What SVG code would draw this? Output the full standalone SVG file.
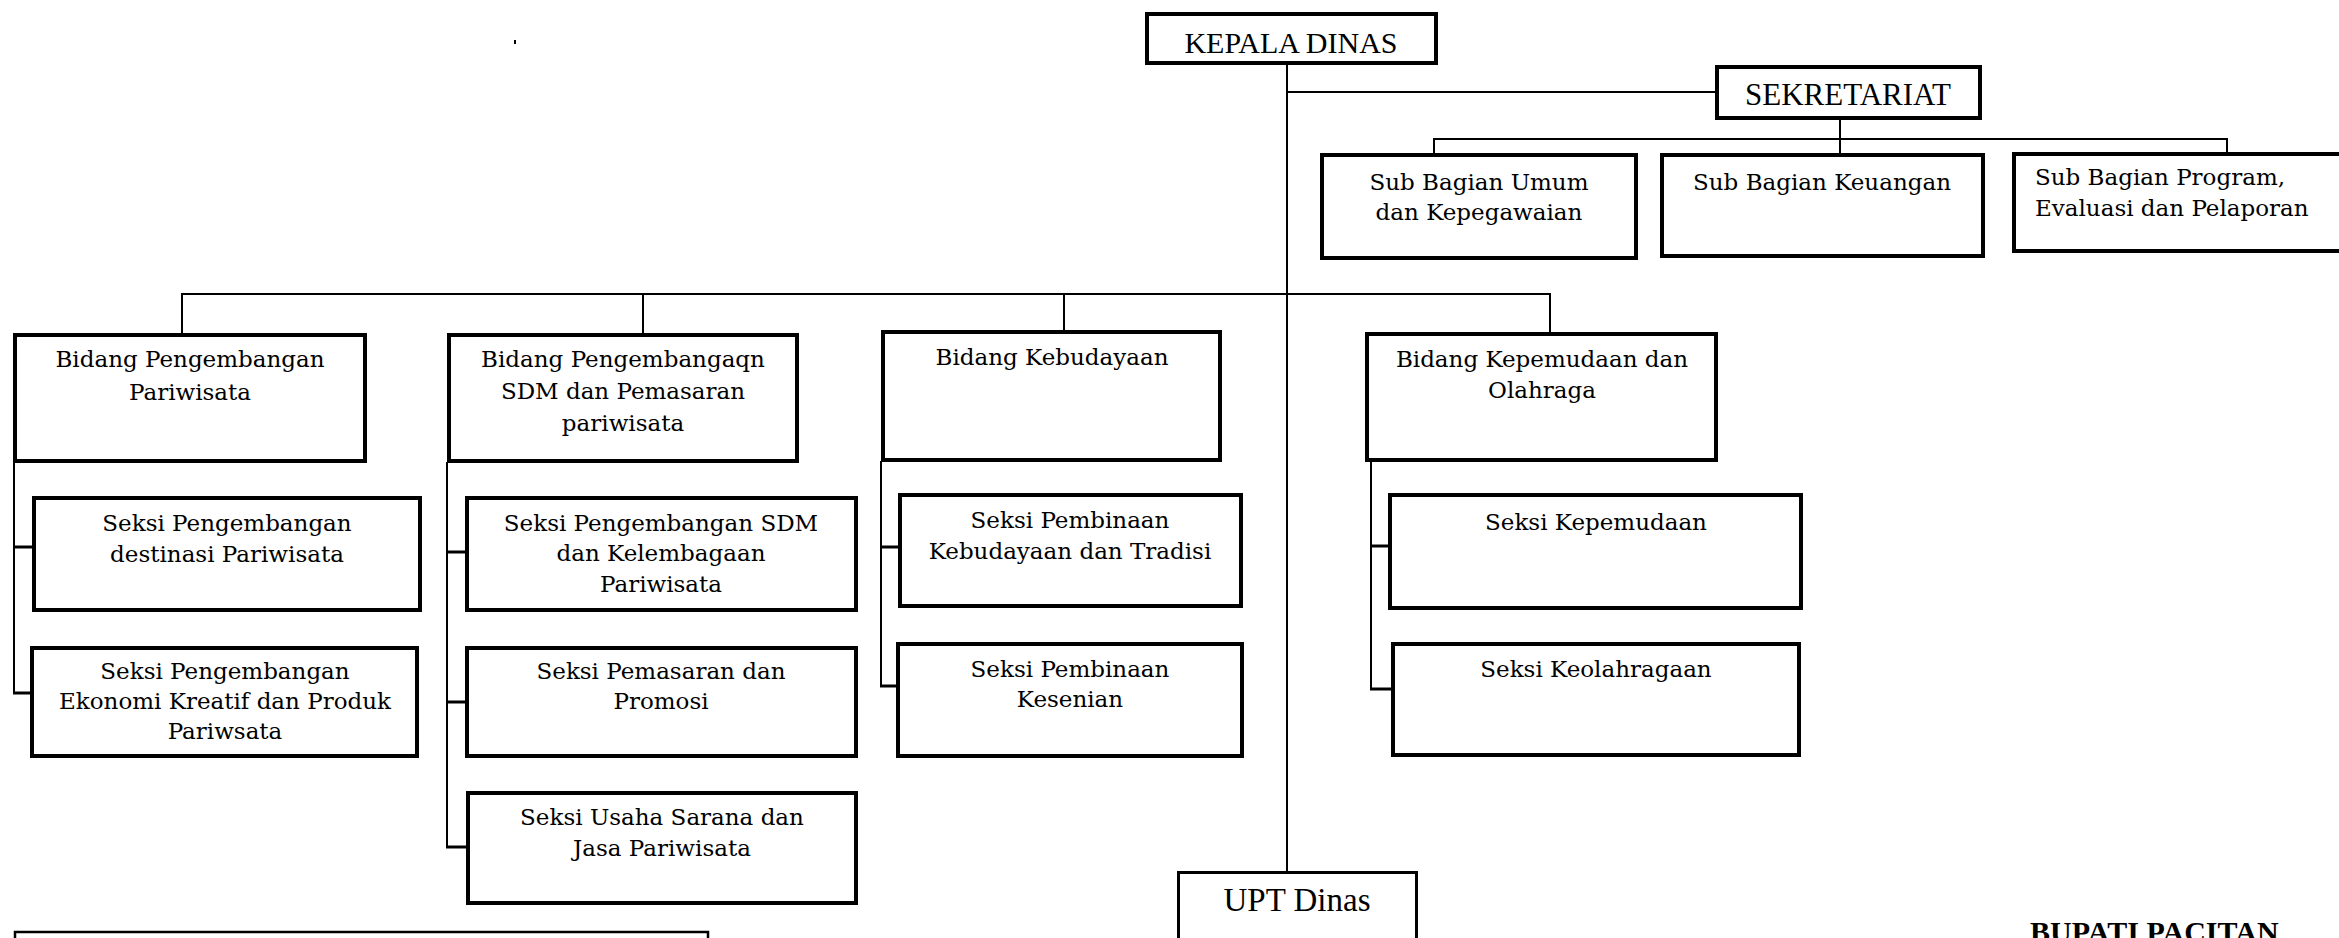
<svg xmlns="http://www.w3.org/2000/svg" width="2339" height="938" viewBox="0 0 2339 938">
<style>
.box{fill:#fff;stroke:#000;stroke-width:4}
.thin{fill:#fff;stroke:#000;stroke-width:2.5}
.conn line{stroke:#000;stroke-width:2}
.conn .stub{stroke-width:3}
text{font-family:"DejaVu Serif","Liberation Serif",serif;font-size:23px;fill:#000;text-anchor:middle}
.cap{font-family:"Liberation Serif","DejaVu Serif",serif;font-size:30px}
</style>
<rect width="2339" height="938" fill="#fff"/>
<g class="conn" id="connectors">
<line x1="1287" y1="65" x2="1287" y2="872"/>
<line x1="1287" y1="92" x2="1716" y2="92"/>
<line x1="1840" y1="120" x2="1840" y2="154"/>
<line x1="1433" y1="139" x2="2228" y2="139"/>
<line x1="1434" y1="139" x2="1434" y2="154"/>
<line x1="2227" y1="139" x2="2227" y2="153"/>
<line x1="181" y1="294" x2="1551" y2="294"/>
<line x1="182" y1="294" x2="182" y2="334"/>
<line x1="643" y1="294" x2="643" y2="334"/>
<line x1="1064" y1="294" x2="1064" y2="331"/>
<line x1="1550" y1="294" x2="1550" y2="333"/>
<line x1="14" y1="462" x2="14" y2="694"/>
<line class="stub" x1="13" y1="547" x2="33" y2="547"/>
<line class="stub" x1="13" y1="693" x2="31" y2="693"/>
<line x1="447" y1="462" x2="447" y2="848"/>
<line class="stub" x1="446" y1="552" x2="466" y2="552"/>
<line class="stub" x1="446" y1="702" x2="466" y2="702"/>
<line class="stub" x1="446" y1="847" x2="467" y2="847"/>
<line x1="881" y1="461" x2="881" y2="687"/>
<line class="stub" x1="880" y1="547" x2="899" y2="547"/>
<line class="stub" x1="880" y1="686" x2="897" y2="686"/>
<line x1="1371" y1="461" x2="1371" y2="690"/>
<line class="stub" x1="1370" y1="546" x2="1389" y2="546"/>
<line class="stub" x1="1370" y1="689" x2="1392" y2="689"/>
</g>
<g id="kepala-dinas">
<rect class="box" x="1147" y="14" width="289" height="49"/>
<text class="cap" x="1291" y="53">KEPALA DINAS</text>
</g>
<g id="sekretariat">
<rect class="box" x="1717" y="67" width="263" height="51"/>
<text class="cap" x="1848" y="105" style="font-size:31px">SEKRETARIAT</text>
</g>
<g id="subbag-umum">
<rect class="box" x="1322" y="155" width="314" height="103"/>
<text x="1479" y="190">Sub Bagian Umum</text>
<text x="1479" y="220">dan Kepegawaian</text>
</g>
<g id="subbag-keuangan">
<rect class="box" x="1662" y="155" width="321" height="101"/>
<text x="1822" y="190">Sub Bagian Keuangan</text>
</g>
<g id="subbag-program">
<rect class="box" x="2014" y="154" width="340" height="97"/>
<text x="2035" y="185" style="text-anchor:start">Sub Bagian Program,</text>
<text x="2035" y="216" style="text-anchor:start">Evaluasi dan Pelaporan</text>
</g>
<g id="bidang-pariwisata">
<rect class="box" x="15" y="335" width="350" height="126"/>
<text x="190" y="367">Bidang Pengembangan</text>
<text x="190" y="400">Pariwisata</text>
</g>
<g id="bidang-sdm">
<rect class="box" x="449" y="335" width="348" height="126"/>
<text x="623" y="367">Bidang Pengembangaqn</text>
<text x="623" y="399">SDM dan Pemasaran</text>
<text x="623" y="431">pariwisata</text>
</g>
<g id="bidang-kebudayaan">
<rect class="box" x="883" y="332" width="337" height="128"/>
<text x="1052" y="365">Bidang Kebudayaan</text>
</g>
<g id="bidang-kepemudaan">
<rect class="box" x="1367" y="334" width="349" height="126"/>
<text x="1542" y="367">Bidang Kepemudaan dan</text>
<text x="1542" y="398">Olahraga</text>
</g>
<g id="seksi-destinasi">
<rect class="box" x="34" y="498" width="386" height="112"/>
<text x="227" y="531">Seksi Pengembangan</text>
<text x="227" y="562">destinasi Pariwisata</text>
</g>
<g id="seksi-ekraf">
<rect class="box" x="32" y="648" width="385" height="108"/>
<text x="225" y="679">Seksi Pengembangan</text>
<text x="225" y="709">Ekonomi Kreatif dan Produk</text>
<text x="225" y="739">Pariwsata</text>
</g>
<g id="seksi-sdm">
<rect class="box" x="467" y="498" width="389" height="112"/>
<text x="661" y="531">Seksi Pengembangan SDM</text>
<text x="661" y="561">dan Kelembagaan</text>
<text x="661" y="592">Pariwisata</text>
</g>
<g id="seksi-pemasaran">
<rect class="box" x="467" y="648" width="389" height="108"/>
<text x="661" y="679">Seksi Pemasaran dan</text>
<text x="661" y="709">Promosi</text>
</g>
<g id="seksi-usaha">
<rect class="box" x="468" y="793" width="388" height="110"/>
<text x="662" y="825">Seksi Usaha Sarana dan</text>
<text x="662" y="856">Jasa Pariwisata</text>
</g>
<g id="seksi-kebudayaan">
<rect class="box" x="900" y="495" width="341" height="111"/>
<text x="1070" y="528">Seksi Pembinaan</text>
<text x="1070" y="559">Kebudayaan dan Tradisi</text>
</g>
<g id="seksi-kesenian">
<rect class="box" x="898" y="644" width="344" height="112"/>
<text x="1070" y="677">Seksi Pembinaan</text>
<text x="1070" y="707">Kesenian</text>
</g>
<g id="seksi-kepemudaan">
<rect class="box" x="1390" y="495" width="411" height="113"/>
<text x="1596" y="530">Seksi Kepemudaan</text>
</g>
<g id="seksi-keolahragaan">
<rect class="box" x="1393" y="644" width="406" height="111"/>
<text x="1596" y="677">Seksi Keolahragaan</text>
</g>
<g id="upt-dinas">
<rect class="box" style="stroke-width:3" x="1178.5" y="872.5" width="238" height="80"/>
<text class="cap" x="1297" y="911" style="font-size:33px">UPT Dinas</text>
</g>
<g id="bottom-frame">
<rect class="thin" x="15" y="932" width="693" height="30"/>
</g>
<text x="2030" y="942" style="text-anchor:start;font-family:'Liberation Serif',serif;font-weight:bold;font-size:30px">BUPATI PACITAN</text>
<rect x="514" y="40" width="2" height="4" fill="#000"/>
</svg>
